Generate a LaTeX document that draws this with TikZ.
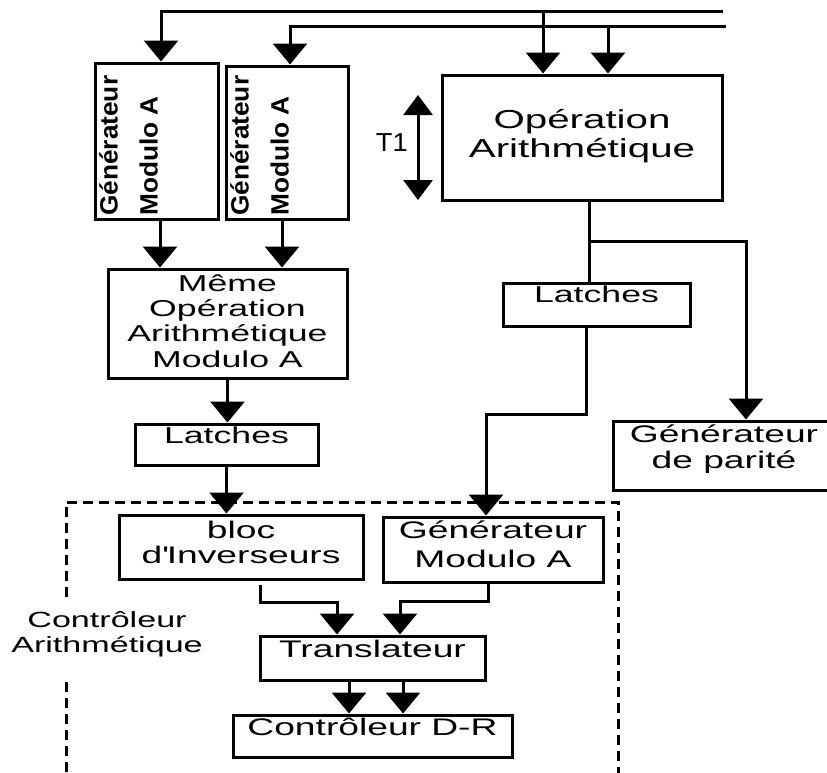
\documentclass[tikz,border=0pt]{standalone}
\usepackage{fontspec}
\setmainfont{Liberation Sans}[FakeStretch=1.55]
\newfontfamily\etroit{Liberation Sans}[FakeStretch=1.05]
\usetikzlibrary{arrows.meta}

\begin{document}
\begin{tikzpicture}[x=1pt,y=-1pt]
	\tikzstyle{bloc}=[draw, line width=3pt, inner sep=0pt, anchor=base, align=center]
	\tikzstyle{fleche}=[-{Triangle[width=34pt,length=21pt]}, line width=3pt]
	\tikzstyle{cadre}=[line width=3pt, dash pattern=on 10pt off 6pt]
	\useasboundingbox (0,0) rectangle (827,772);
	\clip (0,0) rectangle (827,772);
	% controleur arithmetique
	\draw[cadre] (66,597) -- (66,502) -- (618,502) -- (618,780);
	\draw[cadre] (66,682) -- (66,780);
	\node[anchor=base, align=center, inner sep=0pt, font=\fontsize{22}{25}\selectfont] (ctrlar) at (107,652) {Contrôleur\\Arithmétique};
	% blocs
	\node[bloc, anchor=center, minimum width=123pt, minimum height=156pt] (gena) at (156.5,141) {};
	\node[bloc, anchor=center, minimum width=122pt, minimum height=153pt] (genb) at (287,142.5) {};
	\node[rotate=90, anchor=north west, inner sep=0pt, align=left, font=\etroit\bfseries\fontsize{25}{40}\selectfont] (gena-txt) at (99,216) {Générateur\\Modulo A};
	\node[rotate=90, anchor=north west, inner sep=0pt, align=left, font=\etroit\bfseries\fontsize{25}{40}\selectfont] (genb-txt) at (230,216) {Générateur\\Modulo A};
	\node[bloc, minimum width=280pt, text height=82pt, text depth=43pt, font=\fontsize{26}{29}\selectfont] (opar) at (582,157) {Opération\\Arithmétique};
	\node[bloc, minimum width=239pt, text height=98pt, text depth=11pt, font=\fontsize{23}{25.3}\selectfont] (meme) at (227.5,367) {Même\\Opération\\Arithmétique\\Modulo A};
	\node[bloc, minimum width=183pt, text height=19pt, text depth=22pt, font=\fontsize{23}{25}\selectfont] (latcha) at (226.5,443) {Latches};
	\node[bloc, minimum width=187pt, text height=19pt, text depth=24pt, font=\fontsize{23}{25}\selectfont] (latchb) at (596.5,302) {Latches};
	\node[bloc, minimum width=222pt, text height=47pt, text depth=22pt, font=\fontsize{24}{26}\selectfont] (parite) at (724,468) {Générateur\\de parité};
	\node[bloc, minimum width=244pt, text height=48pt, text depth=16pt, font=\fontsize{24}{25}\selectfont] (inv) at (241,563) {bloc\\d\textquotesingle Inverseurs};
	\node[bloc, minimum width=220pt, text height=50pt, text depth=15pt, font=\fontsize{24}{29}\selectfont] (genmod) at (493,567) {Générateur\\Modulo A};
	\node[bloc, minimum width=225pt, text height=21pt, text depth=23pt, font=\fontsize{24}{26}\selectfont] (trans) at (372.5,657) {Translateur};
	\node[bloc, minimum width=279pt, text height=20pt, text depth=22pt, font=\fontsize{24}{26}\selectfont] (ctrl) at (372.5,735) {Contrôleur D-R};
	\node[anchor=base east, inner sep=0pt, font=\fontsize{26}{29}\selectfont] (t1) at (408,151) {\etroit T1};
	\coordinate (in1) at (723,11);
	\coordinate (in2) at (726,26);
	\coordinate (t1h) at (418,95);
	\coordinate (t1b) at (418,200);
	\coordinate (br) at ([xshift=7pt,yshift=-40pt]opar.south);
	% entrees
	\draw[fleche] (in1) -| ([xshift=4.5pt]gena.north);
	\draw[fleche] (in2) -| ([xshift=3pt]genb.north);
	\draw[fleche] ([xshift=-39pt]opar.north |- in1) -- ([xshift=-39pt]opar.north);
	\draw[fleche] ([xshift=26pt]opar.north |- in2) -- ([xshift=26pt]opar.north);
	\draw[{Triangle[width=29pt,length=20pt]}-{Triangle[width=29pt,length=20pt]}, line width=3pt] (t1h) -- (t1b);
	% voie modulo A
	\draw[fleche] ([xshift=3.5pt]gena.south) -- ([xshift=3.5pt]gena.south |- meme.north);
	\draw[fleche] ([xshift=-5pt]genb.south) -- ([xshift=-5pt]genb.south |- meme.north);
	\draw[fleche] (meme.south) -- (meme.south |- latcha.north);
	\draw[fleche] (latcha.south) -- (latcha.south |- inv.north);
	% voie principale
	\draw[line width=3pt] ([xshift=7pt]opar.south) -- ([xshift=7pt]opar.south |- latchb.north);
	\draw[fleche] (br) -| ([xshift=22pt]parite.north);
	\draw[fleche] ([xshift=-10.5pt]latchb.south) -- ++(0,87) -| ([xshift=-7pt]genmod.north);
	% controleur
	\draw[fleche] ([xshift=19pt,yshift=-4pt]inv.south) -- ++(0,18) -| ([xshift=-35.5pt]trans.north);
	\draw[fleche] ([xshift=-5pt]genmod.south) -- ++(0,18) -| ([xshift=27.5pt]trans.north);
	\draw[fleche] ([xshift=-23.5pt]trans.south) -- ([xshift=-23.5pt]trans.south |- ctrl.north);
	\draw[fleche] ([xshift=30.5pt]trans.south) -- ([xshift=30.5pt]trans.south |- ctrl.north);
\end{tikzpicture}
\end{document}
